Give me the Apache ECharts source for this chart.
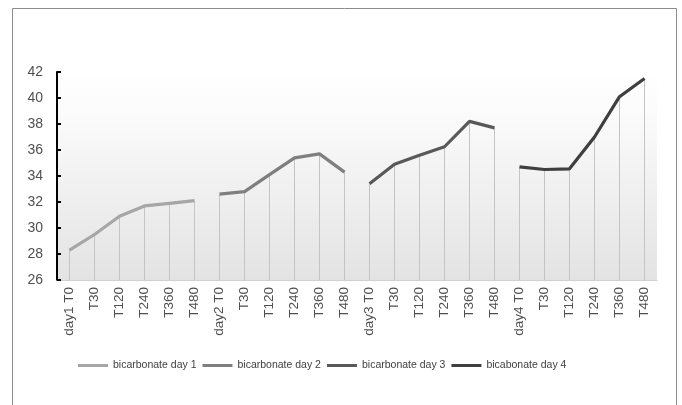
<!DOCTYPE html>
<html><head><meta charset="utf-8">
<script src="https://cdn.jsdelivr.net/npm/echarts@6/dist/echarts.min.js"></script>
<style>html,body{margin:0;padding:0;background:#fff}#c{width:682px;height:405px}</style>
</head><body><div id="c"></div>
<script>
var categories = ['day1 T0','T30','T120','T240','T360','T480','day2 T0','T30','T120','T240','T360','T480','day3 T0','T30','T120','T240','T360','T480','day4 T0','T30','T120','T240','T360','T480'];
var seriesNames = ['bicarbonate day 1','bicarbonate day 2','bicarbonate day 3','bicabonate day 4'];
var day1 = [28.3, 29.5, 30.9, 31.7, 31.9, 32.1];
var day2 = [32.6, 32.8, 34.1, 35.4, 35.7, 34.3];
var day3 = [33.4, 34.9, 35.6, 36.25, 38.2, 37.7];
var day4 = [34.7, 34.5, 34.55, 37.0, 40.1, 41.5];
var yTicks = [26, 28, 30, 32, 34, 36, 38, 40, 42];

var days = [day1, day2, day3, day4];
var colors = ['#a6a6a6', '#7f7f7f', '#595959', '#3f3f3f'];
var allVals = [].concat(day1, day2, day3, day4);

var series = [{
  type: 'bar', name: 'drop', data: allVals, barWidth: 1, silent: true,
  itemStyle: {color: '#c4c4c4'}, z: 1
}];
days.forEach(function(d, i){
  var data = [];
  for (var k = 0; k < categories.length; k++) data.push('-');
  d.forEach(function(v, j){ data[i*6 + j] = v; });
  series.push({
    type: 'line', name: seriesNames[i], data: data, symbol: 'none',
    connectNulls: false, z: 3,
    lineStyle: {color: colors[i], width: 3.2}, itemStyle: {color: colors[i]}
  });
});

var chart = echarts.init(document.getElementById('c'));
chart.setOption({
  animation: false,
  graphic: [{type: 'rect', shape: {x: 12.5, y: 8.5, width: 664, height: 420}, style: {fill: 'none', stroke: '#8c8c8c', lineWidth: 1}, silent: true}],
  grid: {left: 57, right: 25, top: 72, bottom: 125, show: true, borderWidth: 0,
    backgroundColor: {type: 'linear', x: 0, y: 0, x2: 0, y2: 1, colorStops: [
      {offset: 0, color: '#ffffff'}, {offset: 0.2, color: '#fbfbfb'}, {offset: 1, color: '#e3e3e3'}]}},
  legend: {
    data: seriesNames, left: 73, top: 355, itemWidth: 30, itemHeight: 3, itemGap: 6,
    icon: 'rect',
    textStyle: {fontSize: 10.5, color: '#404040', fontFamily: 'Liberation Sans'}
  },
  xAxis: {
    type: 'category', data: categories, boundaryGap: true,
    axisLine: {lineStyle: {color: '#d0d0d0', width: 1}},
    axisTick: {show: false},
    axisLabel: {rotate: 90, interval: 0, fontSize: 13.5, color: '#505050', margin: 7, fontFamily: 'Liberation Sans'}
  },
  yAxis: {
    type: 'value', min: yTicks[0], max: yTicks[yTicks.length-1], interval: 2,
    axisLine: {show: true, lineStyle: {color: '#000', width: 2}},
    axisTick: {show: true, inside: true, length: 4, lineStyle: {color: '#000', width: 2}},
    splitLine: {show: false},
    axisLabel: {fontSize: 14, color: '#505050', margin: 14, fontFamily: 'Liberation Sans'}
  },
  series: series
});
</script></body></html>
